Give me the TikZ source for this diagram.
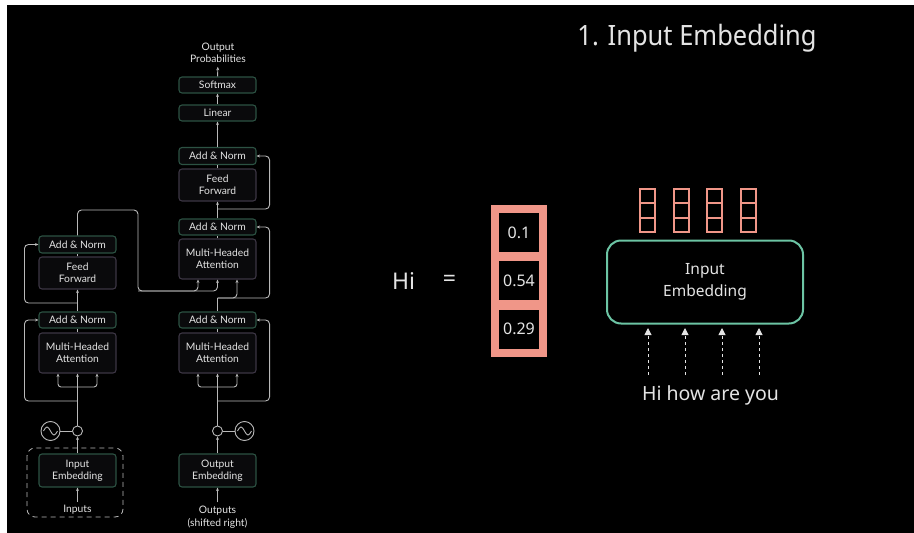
\documentclass[tikz,border=0pt]{standalone}
\usepackage{fontspec}
\setmainfont{Noto Sans}
\newfontfamily\boxfont{Lato}
\usetikzlibrary{arrows.meta}
\definecolor{wirecol}{RGB}{185,185,185}
\definecolor{labeltext}{RGB}{228,228,228}
\definecolor{boxgreen}{RGB}{44,82,67}
\definecolor{boxgray}{RGB}{60,54,68}
\definecolor{boxfill}{RGB}{10,10,12}
\definecolor{salmon}{RGB}{240,150,136}
\definecolor{teal}{RGB}{108,196,164}
\tikzstyle{green box}=[
        draw = boxgreen,
        line width = 1.1pt,
        fill = boxfill,
        rounded corners = 3pt,
        minimum width = 77pt,
        minimum height = 16pt,
        inner sep = 0pt,
        align = center,
        text = labeltext,
        font = \boxfont\fontsize{10.3}{12.3}\selectfont
    ]
\tikzstyle{gray box}=[
    green box,
    draw = boxgray,
    minimum height = 40pt
]
\tikzstyle{label}=[
    text = labeltext,
    align = center,
    font = \boxfont\fontsize{10.3}{12.5}\selectfont
]
\tikzstyle{arr}=[-{Stealth[length=3.5pt,width=3pt]}]
\tikzstyle{big arr}=[-{Triangle[length=7pt,width=7pt]}]
\tikzstyle{cell}=[
    fill = black,
    minimum width = 40pt,
    minimum height = 39pt,
    inner sep = 0pt,
    text = labeltext,
    font = \fontsize{16}{18}\selectfont
]

\begin{document}
\begin{tikzpicture}[x=1pt, y=-1pt, line width=0.9pt, wirecol]
        \useasboundingbox (0,0) rectangle (914,533);
        \fill[white] (0,0) rectangle (914,533);
        \fill[black] (7,5) rectangle (914,533);

        % encoder
        \node[label] (inputs) at (77.5,510) {Inputs};
        \node[green box, minimum height=33pt] (encemb) at (77.5,470.5) {Input\\Embedding};
        \draw[dashed, dash pattern=on 5pt off 4pt, rounded corners=8pt, line width=0.8pt] (27,448) rectangle (123,517);
        \node[draw, circle, minimum size=10pt, inner sep=0pt] (encadd) at (77.5,431) {};
        \node[draw, circle, minimum size=19pt, inner sep=0pt] (encsin) at (50.5,431) {};
        \node[gray box] (encmha) at (77.5,353) {Multi-Headed\\Attention};
        \node[green box] (encan1) at (77.5,320) {Add \& Norm};
        \node[gray box, minimum height=32pt] (encff) at (77.5,273) {Feed\\Forward};
        \node[green box, minimum height=17pt] (encan2) at (77.5,244.5) {Add \& Norm};

        % decoder
        \node[label] (outputs) at (217.5,517) {Outputs\\(shifted right)};
        \node[green box, minimum height=33pt] (decemb) at (217.5,470.5) {Output\\Embedding};
        \node[draw, circle, minimum size=10pt, inner sep=0pt] (decadd) at (217.5,431) {};
        \node[draw, circle, minimum size=19pt, inner sep=0pt] (decsin) at (244.5,431) {};
        \node[gray box] (decmha1) at (217.5,353) {Multi-Headed\\Attention};
        \node[green box] (decan1) at (217.5,320) {Add \& Norm};
        \node[gray box] (decmha2) at (217.5,259) {Multi-Headed\\Attention};
        \node[green box] (decan2) at (217.5,227) {Add \& Norm};
        \node[gray box, minimum height=32pt] (decff) at (217.5,185) {Feed\\Forward};
        \node[green box, minimum height=17pt] (decan3) at (217.5,156) {Add \& Norm};
        \node[green box] (linear) at (217.5,113) {Linear};
        \node[green box] (softmax) at (217.5,85) {Softmax};
        \node[label] (outprob) at (218,53) {Output\\Probabilities};

        \coordinate (e1) at (77.5,387);
        \coordinate (e2) at (77.5,401);
        \coordinate (e3) at (77.5,303);
        \coordinate (d1) at (217.5,387);
        \coordinate (d2) at (217.5,401);
        \coordinate (d3) at (217.5,298);
        \coordinate (d4) at (217.5,209);
        \coordinate (k1) at (138,210);
        \coordinate (k2) at (138,291);

        \draw[arr] (inputs) -- (encemb);
        \draw[arr] (encemb) -- (encadd);
        \draw (encsin) -- (encadd);
        \draw ([xshift=-7pt]encsin.center) sin ++(3.5,-4) cos ++(3.5,4) sin ++(3.5,4) cos ++(3.5,-4);
        \draw[arr] (encadd) -- (encmha);
        \draw[arr, rounded corners=3pt] (e1) -| ([xshift=-19.5pt]encmha.south);
        \draw[arr, rounded corners=3pt] (e1) -| ([xshift=19.5pt]encmha.south);
        \draw[arr, rounded corners=4pt] (e2) -| ([xshift=-14pt]encan1.west) -- (encan1.west);
        \draw (encmha) -- (encan1);
        \draw[arr] (encan1) -- (encff);
        \draw[arr, rounded corners=4pt] (e3) -| ([xshift=-14pt]encan2.west) -- (encan2.west);
        \draw (encff) -- (encan2);
        \draw[arr, rounded corners=4pt] (encan2.north) |- (k1) -- (k2) -| ([xshift=-19.5pt]decmha2.south);
        \draw[arr, rounded corners=4pt] (k2) -| (decmha2.south);

        \draw[arr] (outputs) -- (decemb);
        \draw[arr] (decemb) -- (decadd);
        \draw (decadd) -- (decsin);
        \draw ([xshift=-7pt]decsin.center) sin ++(3.5,-4) cos ++(3.5,4) sin ++(3.5,4) cos ++(3.5,-4);
        \draw[arr] (decadd) -- (decmha1);
        \draw[arr, rounded corners=3pt] (d1) -| ([xshift=-19.5pt]decmha1.south);
        \draw[arr, rounded corners=3pt] (d1) -| ([xshift=19.5pt]decmha1.south);
        \draw[arr, rounded corners=4pt] (d2) -| ([xshift=13pt]decan1.east) -- (decan1.east);
        \draw (decmha1) -- (decan1);
        \draw (decan1) -- (d3);
        \draw[arr, rounded corners=4pt] (d3) -| ([xshift=19.5pt]decmha2.south);
        \draw[arr, rounded corners=4pt] (d3) -| ([xshift=13pt]decan2.east) -- (decan2.east);
        \draw (decmha2) -- (decan2);
        \draw[arr] (decan2) -- (decff);
        \draw[arr, rounded corners=4pt] (d4) -| ([xshift=13pt]decan3.east) -- (decan3.east);
        \draw (decff) -- (decan3);
        \draw[arr] (decan3) -- (linear);
        \draw[arr] (linear) -- (softmax);
        \draw[arr] (softmax) -- (outprob);

        % right side
        \node[anchor=base west, text=labeltext, font=\fontsize{28}{34}\selectfont, inner sep=0pt] (title) at (577,45) {\scalebox{0.91}[1]{1. Input Embedding}};
        \node[text=labeltext, font=\fontsize{23}{28}\selectfont] (hi) at (403.5,281) {Hi};
        \node[text=labeltext, font=\fontsize{23}{28}\selectfont] (eq) at (449.5,281) {=};
        \node[fill=salmon, minimum width=56pt, minimum height=152pt, inner sep=0pt] (vec) at (519,281) {};
        \node[cell] (v1) at (519,232.5) {0.1};
        \node[cell] (v2) at (519,280.5) {0.54};
        \node[cell] (v3) at (519,329) {0.29};

        \node[draw=teal, line width=2pt, rounded corners=14pt, minimum width=196pt, minimum height=83pt, text=labeltext, align=center, font=\fontsize{15.5}{22}\selectfont] (emb) at (705,282) {Input\\Embedding};
        \foreach \x in {647.5,681,714.5,748}
            \foreach \k in {0,1,2}
                \draw[salmon, line width=2pt] (\x-7.5,189+14.3*\k) rectangle (\x+7.5,203.3+14.3*\k);
        \node[text=labeltext, font=\fontsize{19.5}{22}\selectfont] (words) at (710.5,395) {Hi how are you};
        \foreach \x [count=\i] in {648,685,722,759} {
            \coordinate (w\i) at (\x,375);
            \coordinate (t\i) at (\x,328);
            \draw[labeltext, dash pattern=on 3pt off 3pt, line width=1pt] (w\i) -- ([yshift=-5pt]t\i);
            \draw[labeltext, big arr, line width=1pt] ([yshift=-4pt]t\i) -- (t\i);
        }
\end{tikzpicture}
\end{document}
